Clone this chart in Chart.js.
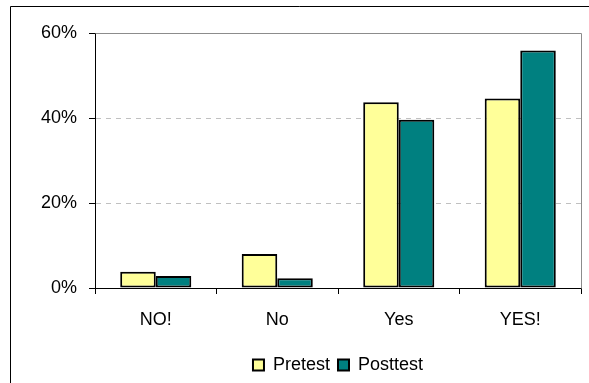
<!DOCTYPE html>
<html>
<head>
<meta charset="utf-8">
<script src="https://cdn.jsdelivr.net/npm/chart.js@4/dist/chart.umd.min.js"></script>
<style>
  html, body { margin: 0; padding: 0; background: #fff; }
  #wrap { width: 589px; height: 383px; }
</style>
</head>
<body>
<div id="wrap"><canvas id="c" width="589" height="383"></canvas></div>
<script>
// Answer categories and share of responses (%) before and after
const categories = ['NO!', 'No', 'Yes', 'YES!'];
const pretest = [3.8, 8.0, 43.7, 44.6];
const posttest = [2.8, 2.3, 39.6, 55.9];
const yTicks = [0, 20, 40, 60];

// Frame lines: outer chart box (left/top) and plot area border (top/right)
const framePlugin = {
  id: 'frame',
  beforeDraw(chart) {
    const ctx = chart.ctx;
    ctx.save();
    ctx.strokeStyle = '#000';
    ctx.lineWidth = 1;
    ctx.beginPath();
    ctx.moveTo(10.5, 383);
    ctx.lineTo(10.5, 6.5);
    ctx.lineTo(589, 6.5);
    ctx.stroke();
    ctx.restore();
  },
  afterDatasetsDraw(chart) {
    const { ctx, chartArea: a } = chart;
    ctx.save();
    ctx.strokeStyle = '#8c8c8c';
    ctx.lineWidth = 1;
    ctx.beginPath();
    ctx.moveTo(Math.round(a.left) + 0.5, Math.round(a.top) + 0.5);
    ctx.lineTo(Math.round(a.right) + 0.5, Math.round(a.top) + 0.5);
    ctx.lineTo(Math.round(a.right) + 0.5, Math.round(a.bottom) + 0.5);
    ctx.stroke();
    ctx.restore();
  }
};

Chart.defaults.font.family = "'Liberation Sans', Arial, sans-serif";
Chart.defaults.font.size = 18;
Chart.defaults.color = '#000';

new Chart(document.getElementById('c'), {
  type: 'bar',
  data: {
    labels: categories,
    datasets: [
      { label: 'Pretest', data: pretest, backgroundColor: '#ffff99',
        borderColor: '#000', borderWidth: 2, borderSkipped: false },
      { label: 'Posttest', data: posttest, backgroundColor: '#008080',
        borderColor: '#000', borderWidth: 2, borderSkipped: false }
    ]
  },
  options: {
    responsive: false,
    animation: false,
    layout: { padding: { top: 33, right: 8, bottom: -1, left: 0 } },
    datasets: { bar: { categoryPercentage: 0.585, barPercentage: 1 } },
    plugins: {
      tooltip: { enabled: false },
      legend: {
        position: 'bottom',
        fullSize: false,
        labels: {
          boxWidth: 11,
          boxHeight: 11,
          padding: 8,
          color: '#000',
          font: { size: 18 }
        }
      }
    },
    scales: {
      x: {
        grid: { offset: true, drawOnChartArea: false, drawTicks: true,
                tickLength: 6, tickColor: '#000', tickWidth: 1 },
        border: { color: '#000', width: 1 },
        ticks: { padding: 15, font: { size: 18 } },
        afterFit(scale) { scale.height = 60; }
      },
      y: {
        min: 0,
        max: 60,
        afterBuildTicks(scale) { scale.ticks = yTicks.map(v => ({ value: v })); },
        grid: {
          color: ctx => (ctx.tick && (ctx.tick.value === 20 || ctx.tick.value === 40)) ? '#c0c0c0' : 'rgba(0,0,0,0)',
          tickLength: 6, tickColor: '#000', tickWidth: 1
        },
        border: { color: '#000', width: 1, dash: [5, 5] },
        ticks: { padding: 12, font: { size: 18 }, callback: v => v + '%' },
        afterFit(scale) { scale.width = 95; }
      }
    }
  },
  plugins: [framePlugin]
});
</script>
</body>
</html>
